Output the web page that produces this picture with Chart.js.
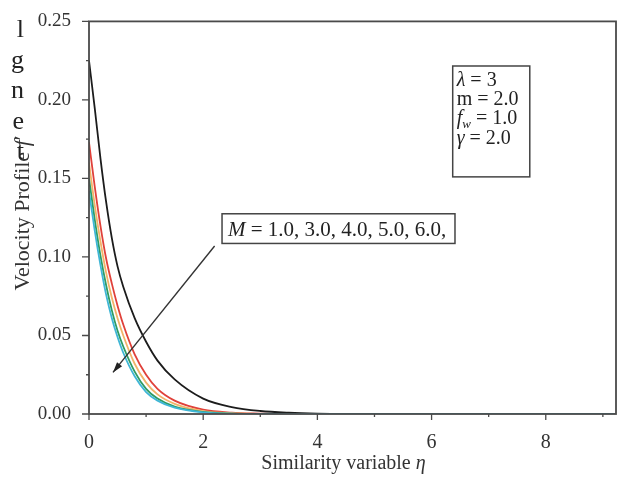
<!DOCTYPE html>
<html>
<head>
<meta charset="utf-8">
<script src="https://cdn.jsdelivr.net/npm/chart.js@4.4.0/dist/chart.umd.min.js"></script>
<style>
  html, body { margin: 0; padding: 0; background: #fff; }
  #wrap { position: relative; width: 618px; height: 478px; }
  #side { position: absolute; left: 0; top: 14px; width: 24px; text-align: right;
          font: 26px "Liberation Serif", serif; line-height: 30.5px; color: #222; }
</style>
</head>
<body>
<div id="wrap">
  <canvas id="c" width="618" height="478"></canvas>
  <div id="side">l<br>g<br>n<br>e<br>t</div>
</div>
<script>
// similarity variable eta
const eta = [0, 0.1, 0.2, 0.3, 0.4, 0.5, 0.6, 0.8, 1.0, 1.2, 1.5, 2.0, 2.5, 3.0, 3.5, 4.0, 5.0, 6.0, 7.0, 8.0, 9.2];

// velocity profile f' for each M
const fM1 = [0.225, 0.195, 0.163, 0.135, 0.112, 0.094, 0.081, 0.061, 0.046, 0.034, 0.022, 0.0098, 0.0044, 0.0019, 0.0008, 0.0003, 0, 0, 0, 0, 0];
const fM3 = [0.173, 0.145, 0.120, 0.099, 0.083, 0.069, 0.057, 0.038, 0.025, 0.016, 0.0085, 0.0028, 0.0009, 0.0003, 0, 0, 0, 0, 0, 0, 0];
const fM4 = [0.160, 0.133, 0.110, 0.090, 0.074, 0.061, 0.050, 0.032, 0.020, 0.0125, 0.0065, 0.0019, 0.0005, 0.0001, 0, 0, 0, 0, 0, 0, 0];
const fM5 = [0.150, 0.124, 0.101, 0.082, 0.066, 0.053, 0.043, 0.027, 0.016, 0.0098, 0.0047, 0.0013, 0.0003, 0, 0, 0, 0, 0, 0, 0, 0];
const fM6 = [0.142, 0.117, 0.095, 0.076, 0.061, 0.049, 0.039, 0.024, 0.014, 0.0085, 0.0040, 0.0010, 0.0002, 0, 0, 0, 0, 0, 0, 0, 0];

const mLabels = ["1.0", "3.0", "4.0", "5.0", "6.0"];
const xTicks = [0, 2, 4, 6, 8];
const xMinor = [1, 3, 5, 7, 9];
const yTicks = [0, 0.05, 0.10, 0.15, 0.20, 0.25];
const yMinor = [0.025, 0.075, 0.125, 0.175, 0.225];

const colors = ["#1c1c1c", "#e0413a", "#f2b46a", "#2f9c63", "#3fb6d6"];
const allSeries = [fM1, fM3, fM4, fM5, fM6];

const serif = '"Liberation Serif", "Times New Roman", serif';

const datasets = allSeries.map((vals, i) => ({
  label: "M = " + mLabels[i],
  data: eta.map((e, k) => ({ x: e, y: vals[k] })),
  borderColor: colors[i],
  borderWidth: 1.8,
  pointRadius: 0,
  fill: false,
  cubicInterpolationMode: "monotone",
}));
// draw black on top
datasets.reverse();

// frame, ticks, titles and the text boxes
const extras = {
  id: "extras",
  afterDraw(chart) {
    const { ctx, chartArea: a, scales: { x, y } } = chart;
    ctx.save();
    ctx.strokeStyle = "#4a4a4a";
    ctx.lineWidth = 1.8;
    ctx.strokeRect(a.left, a.top, a.right - a.left, a.bottom - a.top);

    ctx.lineWidth = 1.3;
    ctx.beginPath();
    xTicks.forEach(v => { const px = x.getPixelForValue(v); ctx.moveTo(px, a.bottom); ctx.lineTo(px, a.bottom + 6); });
    xMinor.forEach(v => { const px = x.getPixelForValue(v); ctx.moveTo(px, a.bottom); ctx.lineTo(px, a.bottom + 3); });
    yTicks.forEach(v => { const py = y.getPixelForValue(v); ctx.moveTo(a.left, py); ctx.lineTo(a.left - 7, py); });
    yMinor.forEach(v => { const py = y.getPixelForValue(v); ctx.moveTo(a.left, py); ctx.lineTo(a.left - 3, py); });
    ctx.stroke();

    ctx.fillStyle = "#222";
    ctx.textBaseline = "alphabetic";
    const it = "italic 20px " + serif, rm = "20px " + serif;
    const width = parts => parts.reduce((w, p) => { ctx.font = p[1]; return w + ctx.measureText(p[0]).width; }, 0);
    const run = (parts, x0, y0) => {
      let cx = x0;
      parts.forEach(p => {
        ctx.font = p[1];
        ctx.fillText(p[0], cx, y0 + (p[2] || 0));
        cx += ctx.measureText(p[0]).width;
      });
    };

    // axis titles
    ctx.fillStyle = "#333";
    const xt = [["Similarity variable ", rm], ["η", it]];
    run(xt, (a.left + a.right) / 2 - 9 - width(xt) / 2, 469);
    const yt = [["Velocity Profile ", "22px " + serif], ["f", "italic 22px " + serif], ["′", "22px " + serif]];
    ctx.save();
    ctx.translate(29, 213);
    ctx.rotate(-Math.PI / 2);
    run(yt, -width(yt) / 2, 0);
    ctx.restore();
    ctx.fillStyle = "#222";

    // parameter box
    const bx = x.getPixelForValue(6.37), by = y.getPixelForValue(0.2216);
    const bx2 = x.getPixelForValue(7.72), by2 = y.getPixelForValue(0.1510);
    ctx.strokeStyle = "#444";
    ctx.lineWidth = 1.5;
    ctx.strokeRect(bx, by, bx2 - bx, by2 - by);
    const tx = bx + 4;
    let ty = by + 20;
    const gap = 19.2;
    run([["λ", it], [" = 3", rm]], tx, ty); ty += gap;
    run([["m = 2.0", rm]], tx, ty); ty += gap;
    run([["f", it], ["w", "italic 13px " + serif, 4], [" = 1.0", rm]], tx, ty); ty += gap;
    run([["γ", it], [" = 2.0", rm]], tx, ty);

    // M box
    const mx = x.getPixelForValue(2.33), my = y.getPixelForValue(0.1275);
    const mx2 = x.getPixelForValue(6.41), my2 = y.getPixelForValue(0.1086);
    ctx.strokeRect(mx, my, mx2 - mx, my2 - my);
    const mf = "21px " + serif;
    run([["M", "italic 21px " + serif], [" = " + mLabels.join(", ") + ",", mf]], mx + 6, my + 22);

    // arrow
    const ax1 = x.getPixelForValue(2.2), ay1 = y.getPixelForValue(0.107);
    const ax2 = x.getPixelForValue(0.42), ay2 = y.getPixelForValue(0.0265);
    ctx.strokeStyle = "#333";
    ctx.lineWidth = 1.4;
    ctx.beginPath(); ctx.moveTo(ax1, ay1); ctx.lineTo(ax2, ay2); ctx.stroke();
    const ang = Math.atan2(ay2 - ay1, ax2 - ax1);
    ctx.beginPath();
    ctx.moveTo(ax2, ay2);
    ctx.lineTo(ax2 - 11 * Math.cos(ang - 0.3), ay2 - 11 * Math.sin(ang - 0.3));
    ctx.lineTo(ax2 - 11 * Math.cos(ang + 0.3), ay2 - 11 * Math.sin(ang + 0.3));
    ctx.closePath(); ctx.fill();
    ctx.restore();
  }
};

new Chart(document.getElementById("c"), {
  type: "line",
  data: { datasets },
  plugins: [extras],
  options: {
    responsive: false,
    animation: false,
    layout: { padding: { left: 0, top: 18, right: 2, bottom: 0 } },
    scales: {
      x: {
        type: "linear",
        min: 0, max: 9.23,
        afterBuildTicks: s => { s.ticks = xTicks.map(v => ({ value: v })); },
        afterFit: s => { s.height = 64; },
        grid: { display: false },
        border: { display: false },
        ticks: { padding: 9, color: "#333", font: { family: serif, size: 20 }, callback: v => String(v) },
      },
      y: {
        min: 0, max: 0.25,
        afterBuildTicks: s => { s.ticks = yTicks.map(v => ({ value: v })); },
        afterFit: s => { s.width = 89; },
        grid: { display: false },
        border: { display: false },
        ticks: { padding: 10, color: "#333", font: { family: serif, size: 19 }, callback: v => v.toFixed(2) },
      },
    },
    plugins: {
      legend: { display: false },
      title: { display: false },
      tooltip: { enabled: false },
    },
  },
});
</script>
</body>
</html>
